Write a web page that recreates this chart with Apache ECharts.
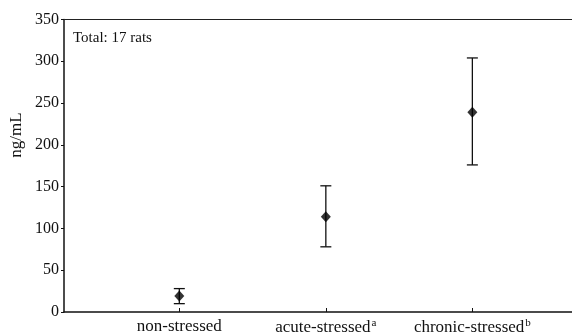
<!DOCTYPE html>
<html>
<head>
<meta charset="utf-8">
<script src="https://cdn.jsdelivr.net/npm/echarts@6/dist/echarts.min.js"></script>
<style>
html, body { margin: 0; padding: 0; background: #fff; }
#chart { width: 572px; height: 332px; }
</style>
</head>
<body>
<div id="chart"></div>
<script>
var groups = ['non-stressed', 'acute-stressed', 'chronic-stressed'];
var groupSup = ['', 'a', 'b'];
var groupPos = [1, 2, 3];
var means = [19, 114, 239];
var lows = [10, 78, 176];
var highs = [28, 151, 304];

var myChart = echarts.init(document.getElementById('chart'));
var serif = '"Liberation Serif", "DejaVu Serif", serif';

var points = [];
var bars = [];
for (var i = 0; i < groups.length; i++) {
    points.push([groupPos[i], means[i]]);
    bars.push([groupPos[i], lows[i], highs[i]]);
}

option = {
    animation: false,
    backgroundColor: '#fff',
    title: {
        text: 'Total: 17 rats',
        left: 68,
        top: 26,
        textStyle: { fontFamily: serif, fontSize: 15, fontWeight: 'normal', color: '#111' }
    },
    // y axis name placed by hand, it sits above the middle in the original
    graphic: [{
        type: 'text',
        x: 17,
        y: 135,
        rotation: Math.PI / 2,
        style: {
            text: 'ng/mL',
            fontFamily: serif,
            fontSize: 17,
            fill: '#111',
            align: 'center',
            verticalAlign: 'middle'
        }
    }],
    grid: { left: 64, right: 0, top: 19.5, bottom: 20, outerBoundsMode: 'none', containLabel: false },
    xAxis: [
        {
            type: 'value',
            min: 0.213,
            max: 3.68,
            splitLine: { show: false },
            axisLine: { lineStyle: { color: '#111', width: 1.5 } },
            axisTick: { customValues: groupPos, length: 4, inside: true, lineStyle: { color: '#111' } },
            axisLabel: {
                customValues: groupPos,
                margin: 6,
                fontFamily: serif,
                fontSize: 17,
                color: '#111',
                formatter: function (v) {
                    var k = groupPos.indexOf(v);
                    if (k < 0) return '';
                    return groupSup[k] ? groups[k] + '{sup|' + groupSup[k] + '}' : groups[k];
                },
                rich: {
                    sup: { fontFamily: serif, fontSize: 11, color: '#111', verticalAlign: 'top', padding: [0, 0, 8, 1] }
                }
            }
        },
        {
            type: 'value',
            position: 'top',
            min: 0.213,
            max: 3.68,
            splitLine: { show: false },
            axisLine: { lineStyle: { color: '#222', width: 1.2 } },
            axisTick: { show: false },
            axisLabel: { show: false }
        }
    ],
    yAxis: {
        type: 'value',
        min: 0,
        max: 350,
        interval: 50,
        splitLine: { show: false },
        axisLine: { show: true, lineStyle: { color: '#111', width: 1.5 } },
        axisTick: { show: true, length: 3, lineStyle: { color: '#111' } },
        axisLabel: { fontFamily: serif, fontSize: 16, color: '#111', margin: 5 }
    },
    series: [
        {
            type: 'custom',
            data: bars,
            renderItem: function (params, api) {
                var top = api.coord([api.value(0), api.value(2)]);
                var bot = api.coord([api.value(0), api.value(1)]);
                var w = 5.5;
                var st = { stroke: '#111', lineWidth: 1.3 };
                return {
                    type: 'group',
                    children: [
                        { type: 'line', shape: { x1: top[0], y1: top[1], x2: bot[0], y2: bot[1] }, style: st },
                        { type: 'line', shape: { x1: top[0] - w, y1: top[1], x2: top[0] + w, y2: top[1] }, style: st },
                        { type: 'line', shape: { x1: bot[0] - w, y1: bot[1], x2: bot[0] + w, y2: bot[1] }, style: st }
                    ]
                };
            },
            z: 2
        },
        {
            type: 'scatter',
            data: points,
            symbol: 'diamond',
            symbolSize: [10, 11],
            itemStyle: { color: '#000' },
            z: 3
        }
    ]
};

myChart.setOption(option);
</script>
</body>
</html>
